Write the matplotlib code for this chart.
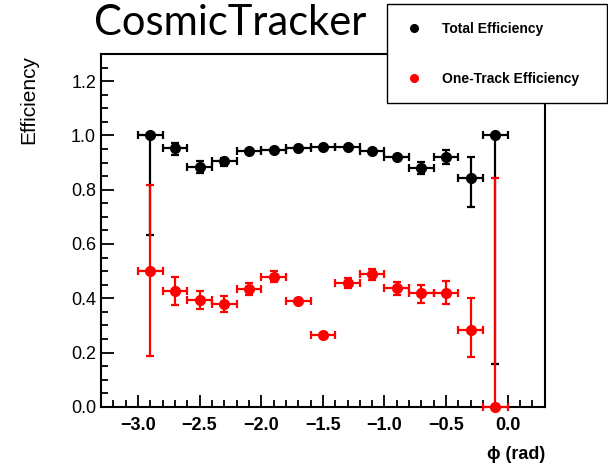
import numpy as np
import matplotlib
matplotlib.use('Agg')
import matplotlib.pyplot as plt
from matplotlib.lines import Line2D
from matplotlib.ticker import MultipleLocator

# phi bin centres (rad), bin half width 0.1
phi = [-2.9, -2.7, -2.5, -2.3, -2.1, -1.9, -1.7, -1.5,
       -1.3, -1.1, -0.9, -0.7, -0.5, -0.3, -0.1]
half_bin = [0.1] * 15

# total efficiency
eff_tot = [1.0, 0.953, 0.884, 0.905, 0.942, 0.948, 0.953, 0.959,
           0.959, 0.943, 0.922, 0.880, 0.922, 0.844, 1.0]
tot_lo = [0.366, 0.025, 0.024, 0.016, 0.005, 0.004, 0.004, 0.003,
          0.003, 0.004, 0.005, 0.023, 0.027, 0.108, 0.841]
tot_hi = [0.0, 0.020, 0.022, 0.013, 0.005, 0.004, 0.004, 0.003,
          0.003, 0.004, 0.005, 0.022, 0.024, 0.076, 0.0]

# one-track efficiency
eff_one = [0.50, 0.427, 0.393, 0.379, 0.435, 0.479, 0.39, 0.266,
           0.456, 0.488, 0.437, 0.419, 0.421, 0.283, 0.0]
one_lo = [0.314, 0.051, 0.034, 0.028, 0.024, 0.019, 0.006, 0.006,
          0.018, 0.021, 0.025, 0.035, 0.043, 0.098, 0.0]
one_hi = [0.318, 0.051, 0.034, 0.028, 0.022, 0.020, 0.006, 0.006,
          0.017, 0.019, 0.023, 0.031, 0.042, 0.118, 0.844]

plt.rcParams['font.family'] = ['Liberation Sans', 'DejaVu Sans']

fig = plt.figure(figsize=(6.08, 4.65), dpi=100)
ax = fig.add_axes([0.166, 0.125, 0.730, 0.759])

ax.errorbar(phi, eff_tot, yerr=[tot_lo, tot_hi], xerr=half_bin, fmt='o',
            color='black', ms=7, elinewidth=1.6, capsize=3, capthick=1.6,
            clip_on=False, zorder=3)
ax.errorbar(phi, eff_one, yerr=[one_lo, one_hi], xerr=half_bin, fmt='o',
            color='red', ms=7, elinewidth=1.6, capsize=3, capthick=1.6,
            clip_on=False, zorder=4)

ax.set_xlim(-3.3, 0.3)
ax.set_ylim(0, 1.3)
ax.xaxis.set_minor_locator(MultipleLocator(0.1))
ax.yaxis.set_minor_locator(MultipleLocator(0.05))
ax.set_xticks([-3.0, -2.5, -2.0, -1.5, -1.0, -0.5, 0.0])
ax.set_xticklabels(['\u22123.0', '\u22122.5', '\u22122.0', '\u22121.5',
                    '\u22121.0', '\u22120.5', '0.0'], fontweight='bold')
ax.set_yticks([0.0, 0.2, 0.4, 0.6, 0.8, 1.0, 1.2])
ax.set_yticklabels(['0.0', '0.2', '0.4', '0.6', '0.8', '1.0', '1.2'])
ax.tick_params(which='both', direction='in', top=False, right=False,
               width=1.3, labelsize=13)
ax.tick_params(which='major', length=9)
ax.tick_params(which='minor', length=5)
ax.tick_params(axis='x', pad=7)
for s in ax.spines.values():
    s.set_linewidth(1.5)

ax.set_ylabel('Efficiency', fontsize=15)
ax.yaxis.set_label_coords(-0.142, 0.997)
ax.yaxis.label.set_ha('right')
ax.set_xlabel('\u03d5 (rad)', fontsize=13, fontweight='bold')
ax.xaxis.set_label_coords(1.0, -0.11)
ax.xaxis.label.set_ha('right')

fig.text(0.378, 0.925, 'CosmicTracker', fontsize=30, family='Lato',
         ha='center', va='baseline')

handles = [Line2D([], [], ls='none', marker='o', color='black', ms=5.5),
           Line2D([], [], ls='none', marker='o', color='red', ms=5.5)]
leg = fig.legend(handles, ['Total Efficiency', 'One-Track Efficiency'],
                 loc='upper left', mode='expand',
                 bbox_to_anchor=(0.637, 0.776, 0.361, 0.215),
                 prop={'weight': 'bold', 'size': 10}, frameon=True,
                 fancybox=False, framealpha=1, edgecolor='black',
                 borderpad=1.25, labelspacing=2.6, handlelength=1.4,
                 handletextpad=1.3, borderaxespad=0)
leg.get_frame().set_linewidth(1.0)

fig.savefig('out.png', dpi=100)
